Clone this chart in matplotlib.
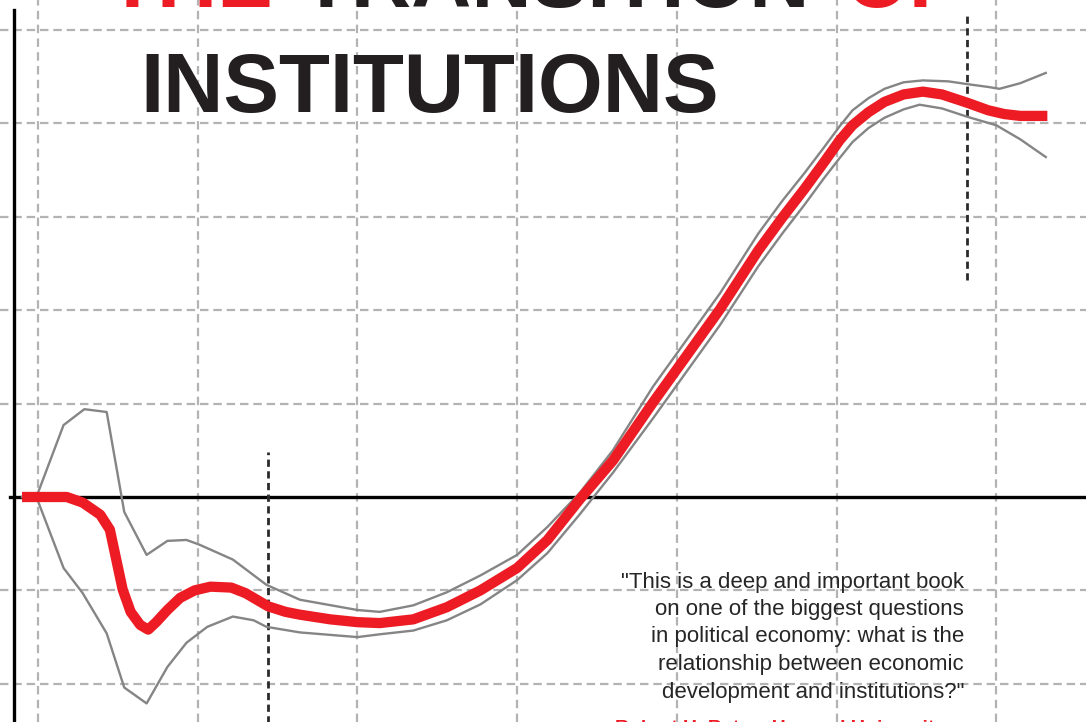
import matplotlib
matplotlib.use("Agg")
import matplotlib.pyplot as plt

# ---------------- data ----------------
# x in grid units (one dashed vertical gridline per unit), y in grid units (0 = black axis)
red_x = [-0.10, 0.18, 0.28, 0.39, 0.45, 0.49, 0.53, 0.58, 0.64, 0.69, 0.74, 0.81, 0.89,
         0.98, 1.08, 1.21, 1.30, 1.38, 1.44, 1.55, 1.64, 1.83, 2.00, 2.14, 2.35, 2.56,
         2.77, 3.00, 3.19, 3.39, 3.60, 3.85, 4.06, 4.27, 4.51, 4.66, 4.80, 4.92, 5.02,
         5.10, 5.20, 5.30, 5.42, 5.54, 5.66, 5.82, 5.95, 6.05, 6.15, 6.32]
red_y = [0.00, 0.00, -0.06, -0.19, -0.35, -0.67, -0.99, -1.23, -1.37, -1.42, -1.34, -1.21, -1.08,
         -1.00, -0.96, -0.97, -1.03, -1.11, -1.17, -1.23, -1.26, -1.31, -1.34, -1.35, -1.31, -1.18,
         -1.00, -0.76, -0.46, -0.03, 0.39, 1.01, 1.51, 2.01, 2.64, 2.99, 3.30, 3.58, 3.82,
         3.98, 4.12, 4.23, 4.31, 4.34, 4.31, 4.22, 4.14, 4.10, 4.08, 4.08]

upper_x = [-0.10, -0.01, 0.16, 0.29, 0.43, 0.54, 0.68, 0.81, 0.93, 1.01, 1.22, 1.43, 1.64,
           2.00, 2.14, 2.35, 2.56, 2.77, 3.00, 3.19, 3.39, 3.60, 3.85, 4.06, 4.27, 4.51,
           4.66, 4.80, 4.92, 5.02, 5.10, 5.20, 5.30, 5.42, 5.54, 5.70, 5.82, 5.95, 6.02,
           6.15, 6.31]
upper_y = [0.00, 0.00, 0.77, 0.94, 0.91, -0.16, -0.62, -0.47, -0.46, -0.51, -0.67, -0.94, -1.10,
           -1.21, -1.23, -1.16, -1.02, -0.84, -0.62, -0.32, 0.04, 0.50, 1.18, 1.68, 2.18, 2.82,
           3.17, 3.47, 3.74, 3.97, 4.14, 4.27, 4.37, 4.44, 4.46, 4.45, 4.42, 4.39, 4.37,
           4.43, 4.54]

lower_x = [-0.10, -0.01, 0.16, 0.28, 0.43, 0.54, 0.68, 0.81, 0.93, 1.06, 1.22, 1.35, 1.43,
           1.64, 2.00, 2.14, 2.35, 2.56, 2.77, 3.00, 3.19, 3.39, 3.60, 3.85, 4.06, 4.27,
           4.51, 4.66, 4.80, 4.92, 5.02, 5.10, 5.20, 5.30, 5.42, 5.52, 5.66, 5.82, 6.00,
           6.15, 6.31]
lower_y = [0.00, 0.00, -0.76, -1.03, -1.46, -2.04, -2.21, -1.82, -1.56, -1.39, -1.28, -1.32, -1.39,
           -1.45, -1.50, -1.47, -1.43, -1.32, -1.15, -0.89, -0.60, -0.19, 0.26, 0.84, 1.34, 1.84,
           2.47, 2.82, 3.13, 3.41, 3.63, 3.80, 3.95, 4.06, 4.15, 4.20, 4.16, 4.07, 3.98,
           3.83, 3.64]

grid_x = [0, 1, 2, 3, 4, 5, 6]
grid_y = [-2, -1, 1, 2, 3, 4, 5]

phase_markers = [1.44, 5.82]          # dark dotted verticals
phase_spans = [(-2.6, 0.48), (2.32, 5.16)]

title_top = ["THE", "TRANSITION", "OF"]
title_main = "INSTITUTIONS"
quote_lines = ['"This is a deep and important book',
               'on one of the biggest questions',
               'in political economy: what is the',
               'relationship between economic',
               'development and institutions?"']
attribution = "Robert H. Bates, Harvard University"

# ---------------- styling ----------------
W, H = 1086, 722
RED = "#ed1c24"
INK = "#231f20"
GRID = "#b3b3b3"

fig = plt.figure(figsize=(W / 100, H / 100), dpi=100)
ax = fig.add_axes([0, 0, 1, 1])
ax.set_xlim(-0.238, 6.562)
ax.set_ylim(-2.409, 5.321)
ax.axis("off")

for gx in grid_x:
    ax.axvline(gx, color=GRID, lw=1.6, linestyle=(0, (3.8, 2.4)), zorder=1)
for gy in grid_y:
    ax.axhline(gy, color=GRID, lw=1.6, linestyle=(0, (3.8, 2.2)), zorder=1)

# black axes
ax.axhline(0, xmin=10 / W, xmax=1, color="black", lw=2.4, zorder=2)
ax.axvline(-0.15, ymin=0, ymax=1 - 10 / H, color="black", lw=2.4, zorder=2)

for mx, (y0, y1) in zip(phase_markers, phase_spans):
    ax.vlines(mx, y0, y1, color="#2a2a2a", lw=2.0, linestyle=(0, (2.6, 1.6)), zorder=3)

ax.plot(upper_x, upper_y, color="#858585", lw=1.7, solid_joinstyle="round", zorder=4)
ax.plot(lower_x, lower_y, color="#858585", lw=1.7, solid_joinstyle="round", zorder=4)
ax.plot(red_x, red_y, color=RED, lw=7.4, solid_joinstyle="round", solid_capstyle="butt", zorder=5)

# titles (top line is cut off by the figure edge)
tfont = dict(family="Liberation Sans", fontweight="bold", fontsize=60, va="baseline")
fig.text(273 / W, 1 - 7 / H, title_top[0], color=RED, ha="right", **tfont)
fig.text(300 / W, 1 - 7 / H, title_top[1], color=INK, ha="left", **tfont)
fig.text(845 / W, 1 - 7 / H, title_top[2], color=RED, ha="left", **tfont)
fig.text(140 / W, 1 - 112 / H, title_main, color=INK, ha="left", **tfont)

baselines = [588, 615, 642, 670, 698]
for line, b in zip(quote_lines, baselines):
    fig.text(964 / W, 1 - b / H, line, family="Liberation Sans", fontsize=16,
             color="#262626", ha="right", va="baseline")

fig.text(945 / W, 1 - 733 / H, attribution, family="Liberation Sans", fontsize=14,
         fontweight="bold", color=RED, ha="right", va="baseline")

fig.savefig("out.png", dpi=100)
